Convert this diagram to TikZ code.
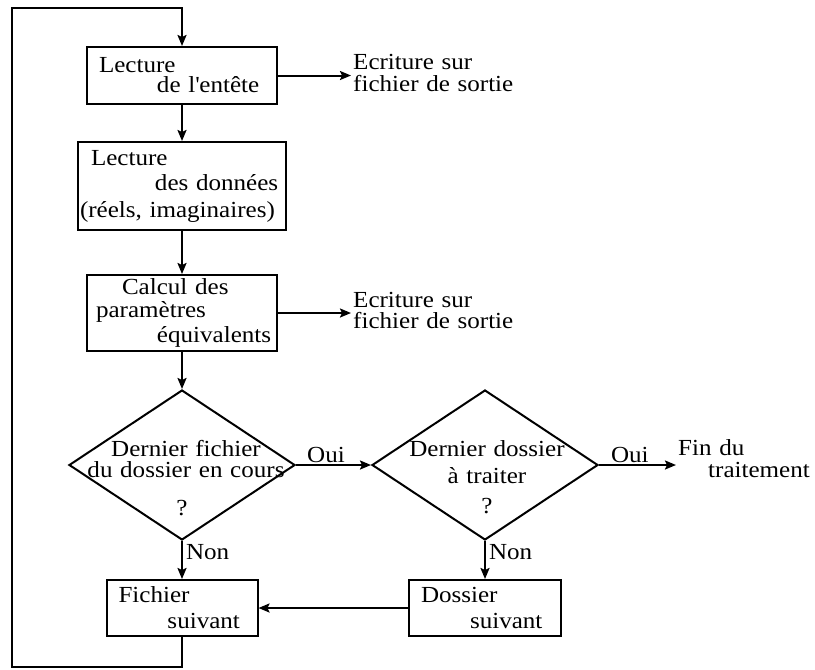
\documentclass[tikz,border=0pt]{standalone}
\usepackage{fontspec}
\setmainfont{Liberation Serif}[FakeStretch=1.09]
\usetikzlibrary{arrows.meta,positioning,shapes.geometric}

\begin{document}
\begin{tikzpicture}[x=1pt,y=-1pt,node distance=37pt,
        every node/.style={font=\fontsize{23}{20}\selectfont},
        bx/.style={draw,line width=2pt,text width=#1,align=left,inner xsep=0pt,inner ysep=0pt},
        dm/.style={draw,line width=2pt,diamond,minimum width=226pt,minimum height=150pt,inner sep=0pt},
        tx/.style={text width=#1,align=left,inner xsep=2pt,inner ysep=0pt},
        a/.style={-{Stealth[length=11pt,width=9pt,inset=2pt]},line width=2pt}]
        \useasboundingbox (0,0) rectangle (815,670);
        % colonne principale
        \node[bx=190pt,minimum height=57pt] (b1) at (182,75.5) {\hspace*{12pt}Lecture\\\hspace*{70pt}de l\textquotesingle entête};
        \node[bx=208pt,minimum height=88pt,below=36pt of b1] (b2) {\hspace*{13pt}Lecture\\[5pt]\hspace*{77pt}des données\\[7pt]\hspace*{2pt}(réels, imaginaires)};
        \node[bx=190pt,minimum height=76pt,below=43pt of b2] (b3) {\hspace*{35pt}Calcul des\\[3pt]\hspace*{9pt}paramètres\\[3pt]\hspace*{70pt}équivalents};
        \node[dm,below=37pt of b3] (q1) {};
        \node[bx=151pt,minimum height=56pt,below=38pt of q1] (b4) {\hspace*{12pt}Fichier\\[6pt]\hspace*{61pt}suivant};
        \node[dm,right=75pt of q1] (q2) {};
        \node[bx=152pt,minimum height=56pt,below=38pt of q2] (b5) {\hspace*{12pt}Dossier\\[6pt]\hspace*{61pt}suivant};
        % textes des tests et sorties
        \node[tx=230pt,align=center,anchor=base] (q1t) at ([xshift=4pt,yshift=9pt]q1.center) {Dernier fichier\\[1pt]du dossier en cours\\[18pt]\hspace*{-8pt}?};
        \node[tx=230pt,align=center,anchor=base] (q2t) at ([xshift=2pt,yshift=9pt]q2.center) {Dernier dossier\\[7pt]à traiter\\[10pt]?};
        \node[tx=220pt,anchor=base west] (w1) at (351,69) {Ecriture sur\\[2pt]fichier de sortie};
        \node[tx=220pt,anchor=base west] (w2) at (351,307) {Ecriture sur\\[1pt]fichier de sortie};
        \node[tx=200pt,anchor=base west] (fin) at (676,455) {Fin du\\[2pt]\hspace*{30pt}traitement};
        % liaisons
        \draw[a] (b1)--(b2); \draw[a] (b2)--(b3); \draw[a] (b3)--(q1);
        \draw[a] (b1.east)--(b1.east -| w1.west);
        \draw[a] (b3.east)--(b3.east -| w2.west);
        \draw[a] (q1)--node[above,pos=0.4,inner sep=1pt] (o1) {Oui} (q2);
        \draw[a] (q2.east)--node[above,pos=0.4,inner sep=1pt] (o2) {Oui} (q2.east -| fin.west);
        \draw[a] (q1)--node[right,pos=0.3,inner sep=3pt] (n1) {Non} (b4);
        \draw[a] (q2)--node[right,pos=0.3,inner sep=3pt] (n2) {Non} (b5);
        \draw[a] (b5)--(b4);
        \coordinate (lb) at (12,667); \coordinate (lt) at (12,8);
        \draw[a] (b4.south) |- (lb) -- (lt) -| (b1.north);
      \end{tikzpicture}
\end{document}
